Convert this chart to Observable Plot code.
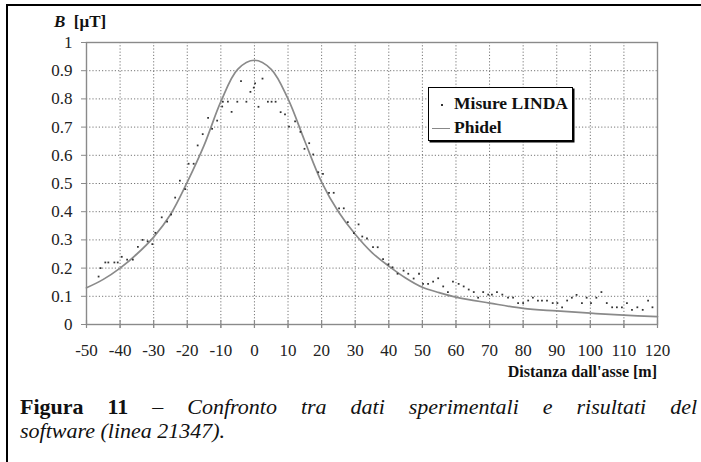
<!DOCTYPE html>
<html><head><meta charset="utf-8">
<script src="https://cdn.jsdelivr.net/npm/d3@7"></script>
<script src="https://cdn.jsdelivr.net/npm/@observablehq/plot@0.6"></script>
<style>
body{margin:0;background:#fff;font-family:"Liberation Serif","Times New Roman",Times,serif;color:#111;}
#page{position:relative;width:701px;height:462px;overflow:hidden;background:#fff;}
#lborder{position:absolute;left:6px;top:4px;width:2px;height:458px;background:#000;}
#tborder{position:absolute;left:6px;top:4px;width:695px;height:2px;background:#000;}
#chart{position:absolute;left:0;top:0;}
#ylab{position:absolute;left:54px;top:12px;font-weight:bold;font-size:17px;line-height:20px;white-space:pre;}
#xlab{position:absolute;right:44px;top:363px;font-weight:bold;font-size:16px;line-height:18px;}
#legend{position:absolute;left:428px;top:87px;width:143px;height:52px;border:1px solid #000;background:#fff;box-shadow:1.5px 1.5px 0 #000;}
#legend .row{position:absolute;left:0;font-weight:bold;font-size:17.5px;line-height:20px;white-space:nowrap;}
#legend .sym{display:inline-block;width:18px;margin-left:3px;margin-right:4px;vertical-align:middle;position:relative;height:2px;}
#legend .dot::after{content:"";position:absolute;left:9px;top:0;width:2px;height:2px;background:#333;}
#legend .ln{border-top:1.5px solid #888;height:0;}
#cap{position:absolute;left:20px;top:395px;width:677px;font-size:22px;line-height:24px;}
#cap .l1{text-align:justify;text-align-last:justify;}
</style></head>
<body>
<div id="page">
  <div id="chart"></div>
  <div id="lborder"></div>
  <div id="tborder"></div>
  <div id="ylab"><i>B</i>  [μT]</div>
  <div id="xlab">Distanza dall'asse [m]</div>
  <div id="legend">
    <div class="row" style="top:5px"><span class="sym dot"></span>Misure LINDA</div>
    <div class="row" style="top:29px"><span class="sym ln"></span>Phidel</div>
  </div>
  <div id="cap">
    <div class="l1"><b>Figura 11</b> – <i>Confronto tra dati sperimentali e risultati del</i></div>
    <div><i>software (linea 21347).</i></div>
  </div>
</div>
<script>
const measX = [-46.4,-45.8,-44.4,-43.5,-41.7,-40.7,-39.5,-37.9,-36.2,-34.7,-33.3,-31.8,-30.4,-29.5,-27.6,-26.0,-24.8,-23.6,-22.2,-20.6,-19.6,-18.1,-16.9,-15.4,-13.8,-12.6,-11.1,-9.6,-9.4,-7.9,-6.8,-5.1,-4.0,-2.4,-1.2,-0.2,0.2,1.2,2.4,4.0,5.1,6.3,7.8,9.1,10.3,12.1,13.7,14.9,16.3,17.5,19.0,20.4,22.2,23.6,25.2,26.6,27.8,29.6,31.0,32.1,33.5,35.3,36.7,38.3,39.9,41.1,42.6,44.4,45.8,47.4,49.0,50.2,51.7,53.2,54.7,56.2,57.6,59.1,60.8,62.3,63.8,65.3,66.6,68.1,69.6,70.7,72.2,73.8,75.5,77.0,78.5,80.0,81.5,82.9,84.4,85.6,87.1,88.8,90.2,91.6,93.1,94.5,95.9,97.5,98.9,100.2,101.8,103.3,104.9,106.5,107.9,109.4,110.9,112.4,114.0,115.6,117.2,118.5];
const measB = [0.17,0.20,0.22,0.22,0.22,0.22,0.24,0.23,0.23,0.275,0.30,0.295,0.285,0.325,0.38,0.365,0.39,0.45,0.51,0.48,0.57,0.57,0.635,0.675,0.733,0.694,0.723,0.773,0.79,0.79,0.754,0.79,0.863,0.79,0.825,0.84,0.855,0.772,0.872,0.79,0.79,0.79,0.753,0.745,0.702,0.72,0.683,0.623,0.643,0.603,0.54,0.534,0.467,0.467,0.412,0.412,0.363,0.324,0.355,0.312,0.305,0.274,0.274,0.232,0.213,0.203,0.18,0.191,0.18,0.163,0.18,0.144,0.144,0.152,0.164,0.135,0.115,0.152,0.144,0.135,0.124,0.115,0.095,0.115,0.106,0.106,0.115,0.106,0.095,0.095,0.076,0.076,0.085,0.095,0.085,0.085,0.085,0.076,0.076,0.061,0.085,0.095,0.105,0.076,0.095,0.076,0.095,0.115,0.076,0.061,0.061,0.061,0.076,0.052,0.061,0.052,0.085,0.061];
const phidelX = [-50,-45,-40,-35,-30,-25,-20,-15,-10,-5,0,5,10,15,20,25,30,35,40,45,50,55,60,70,80,90,100,110,120];
const phidelB = [0.13,0.16,0.20,0.25,0.31,0.39,0.505,0.635,0.79,0.905,0.937,0.905,0.80,0.65,0.505,0.40,0.32,0.255,0.207,0.165,0.132,0.113,0.097,0.076,0.057,0.048,0.040,0.033,0.028];
const xTicks = [-50,-40,-30,-20,-10,0,10,20,30,40,50,60,70,80,90,100,110,120];
const xTickLabels = ["-50","-40","-30","-20","-10","0","10","20","30","40","50","60","70","80","90","100","110","120"];
const yTicks = [0,0.1,0.2,0.3,0.4,0.5,0.6,0.7,0.8,0.9,1];
const yTickLabels = ["0","0.1","0.2","0.3","0.4","0.5","0.6","0.7","0.8","0.9","1"];

const meas = measX.map((x,i)=>({x, b: measB[i]}));
const phidel = phidelX.map((x,i)=>({x, b: phidelB[i]}));
const serif = '"Liberation Serif","Times New Roman",Times,serif';

const chart = Plot.plot({
  width: 701, height: 385,
  marginTop: 42, marginBottom: 61, marginLeft: 86, marginRight: 44,
  style: {fontFamily: serif, fontSize: "17px", color: "#222", background: "transparent"},
  x: {domain: [-50, 120], label: null},
  y: {domain: [0, 1], label: null},
  marks: [
    Plot.gridX(xTicks.slice(1, -1), {stroke: "#777", strokeOpacity: 1, strokeDasharray: "1.2,2", strokeWidth: 1}),
    Plot.gridY(yTicks.slice(1, -1), {stroke: "#777", strokeOpacity: 1, strokeDasharray: "1.2,2", strokeWidth: 1}),
    Plot.frame({stroke: "#8a8a8a", strokeWidth: 1.4}),
    Plot.axisY(yTicks, {tickSize: 5, tickPadding: 9, tickFormat: (d, i) => yTickLabels[i], stroke: "#8a8a8a", label: null, fontSize: 17}),
    Plot.axisX(xTicks, {tickSize: 4, tickPadding: 15, tickFormat: (d, i) => xTickLabels[i], stroke: "#8a8a8a", label: null, fontSize: 17}),
    Plot.ruleX(xTicks, {y1: 0, y2: 0, insetTop: -4, insetBottom: -4, stroke: "#8a8a8a", strokeWidth: 1.2}),
    Plot.line(phidel, {x: "x", y: "b", curve: "catmull-rom", stroke: "#8a8a8a", strokeWidth: 1.7}),
    Plot.dot(meas, {x: "x", y: "b", symbol: "square", r: 1.0, fill: "#333", stroke: null})
  ]
});
document.getElementById("chart").appendChild(chart);
</script>
</body></html>
